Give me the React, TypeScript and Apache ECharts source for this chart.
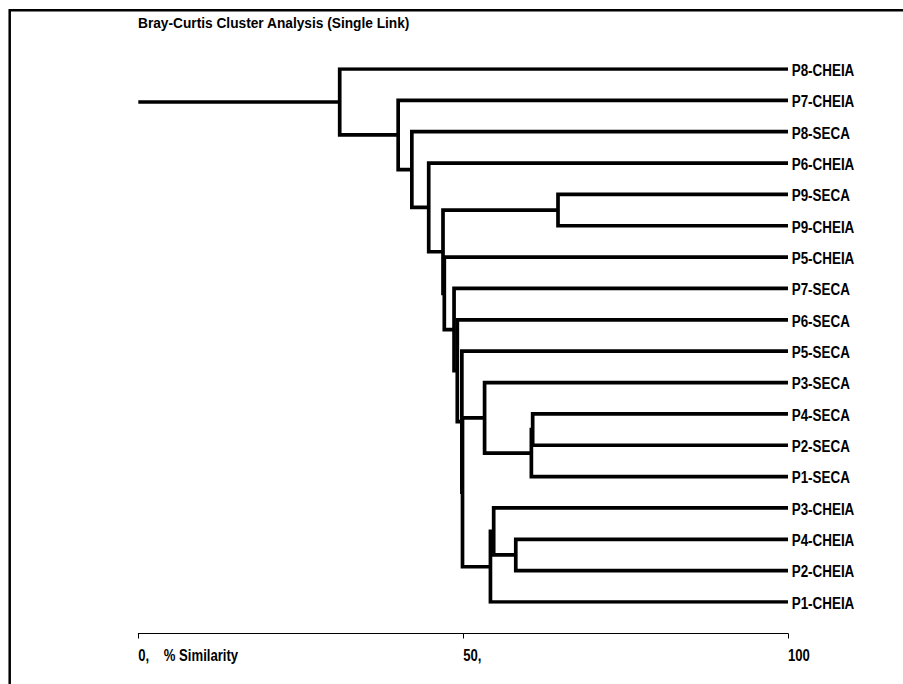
import React, { useEffect, useRef } from "react";
import * as echarts from "echarts";

// Leaves in display order (top to bottom)
const leaves: string[] = [
  "P8-CHEIA", "P7-CHEIA", "P8-SECA", "P6-CHEIA", "P9-SECA", "P9-CHEIA",
  "P5-CHEIA", "P7-SECA", "P6-SECA", "P5-SECA", "P3-SECA", "P4-SECA",
  "P2-SECA", "P1-SECA", "P3-CHEIA", "P4-CHEIA", "P2-CHEIA", "P1-CHEIA",
];

// Merges: child A, child B (leaf index 0..17, or 18+k for merge k), % similarity
const mergeA: number[] = [4, 11, 19, 15, 14, 22, 10, 24, 9, 8, 7, 6, 18, 3, 2, 1, 0];
const mergeB: number[] = [5, 12, 13, 16, 21, 17, 20, 23, 25, 26, 27, 28, 29, 30, 31, 32, 33];
const mergeSim: number[] = [64.6, 60.7, 60.5, 58.1, 54.7, 54.2, 53.3, 49.9, 49.8, 49.1, 48.6, 47.1, 46.9, 44.7, 42.1, 40.0, 31.0];

const xTickValues: number[] = [0, 50, 100];
const xTickLabels: string[] = ["0,    % Similarity", "50,", "100"];
const title = "Bray-Curtis Cluster Analysis (Single Link)";

const FONT = "'Liberation Sans', Arial, sans-serif";
const NARROW = 0.82;

function buildLines() {
  const n = leaves.length;
  const nodeX: number[] = leaves.map(() => 100);
  const nodeY: number[] = leaves.map((_, i) => i);
  const out: { coords: number[][] }[] = [];
  for (let k = 0; k < mergeSim.length; k++) {
    const a = mergeA[k];
    const b = mergeB[k];
    const s = mergeSim[k];
    out.push({
      coords: [
        [nodeX[a], nodeY[a]],
        [s, nodeY[a]],
        [s, nodeY[b]],
        [nodeX[b], nodeY[b]],
      ],
    });
    nodeX[n + k] = s;
    nodeY[n + k] = (nodeY[a] + nodeY[b]) / 2;
  }
  const root = n + mergeSim.length - 1;
  out.push({ coords: [[0, nodeY[root]], [nodeX[root], nodeY[root]]] });
  return out;
}

export default function App() {
  const ref = useRef<HTMLDivElement>(null);
  useEffect(() => {
    if (!ref.current) return;
    const chart = echarts.init(ref.current, null, { renderer: "svg" });
    const last = leaves.length - 1;
    chart.setOption({
      animation: false,
      backgroundColor: "#ffffff",
      graphic: [
        {
          type: "rect",
          shape: { x: 9.7, y: 10.3, width: 2000, height: 2000 },
          style: { fill: "none", stroke: "#000", lineWidth: 2.5 },
          silent: true,
        },
        {
          type: "text",
          x: 138,
          y: 22.8,
          scaleX: 0.885,
          silent: true,
          style: {
            text: title,
            fill: "#000",
            font: `bold 15.5px ${FONT}`,
            align: "left",
            verticalAlign: "middle",
          },
        },
      ],
      grid: { left: 138.3, right: 115, top: 69, bottom: 82 },
      xAxis: {
        type: "value",
        min: 0,
        max: 100,
        interval: 50,
        position: "bottom",
        offset: 31.5,
        axisLine: { show: true, onZero: false, lineStyle: { color: "#000", width: 1 } },
        axisTick: { show: true, length: 5, lineStyle: { color: "#000", width: 1 } },
        splitLine: { show: false },
        axisLabel: { show: false },
      },
      yAxis: {
        type: "value",
        min: 0,
        max: last,
        interval: 1,
        inverse: true,
        position: "right",
        axisLine: { show: false },
        axisTick: { show: false },
        splitLine: { show: false },
        axisLabel: { show: false },
      },
      series: [
        {
          type: "lines",
          coordinateSystem: "cartesian2d",
          polyline: true,
          silent: true,
          lineStyle: { color: "#000", width: 3.7, opacity: 1, cap: "butt", join: "miter" },
          data: buildLines(),
        },
        {
          type: "custom",
          silent: true,
          clip: false,
          data: leaves.map((_, i) => [100, i]),
          encode: { x: 0, y: 1 },
          renderItem: (params: any, api: any) => {
            const i = api.value(1);
            const p = api.coord([100, i]);
            return {
              type: "text",
              x: p[0] + 3.7,
              y: p[1] + 0.7,
              scaleX: 0.79,
              style: {
                text: leaves[i],
                fill: "#000",
                font: `bold 17px ${FONT}`,
                align: "left",
                verticalAlign: "middle",
              },
            };
          },
        },
        {
          type: "custom",
          silent: true,
          clip: false,
          data: xTickValues.map((v) => [v, last]),
          encode: { x: 0, y: 1 },
          renderItem: (params: any, api: any) => {
            const v = api.value(0);
            const p = api.coord([v, last]);
            const idx = xTickValues.indexOf(v);
            return {
              type: "text",
              x: p[0],
              y: p[1] + 54,
              scaleX: NARROW,
              style: {
                text: xTickLabels[idx],
                fill: "#000",
                font: `bold 16px ${FONT}`,
                align: "left",
                verticalAlign: "middle",
              },
            };
          },
        },
      ],
    });
    return () => chart.dispose();
  }, []);
  return (
    <div
      ref={ref}
      style={{ position: "fixed", left: 0, top: 0, width: 903, height: 684 }}
    />
  );
}
